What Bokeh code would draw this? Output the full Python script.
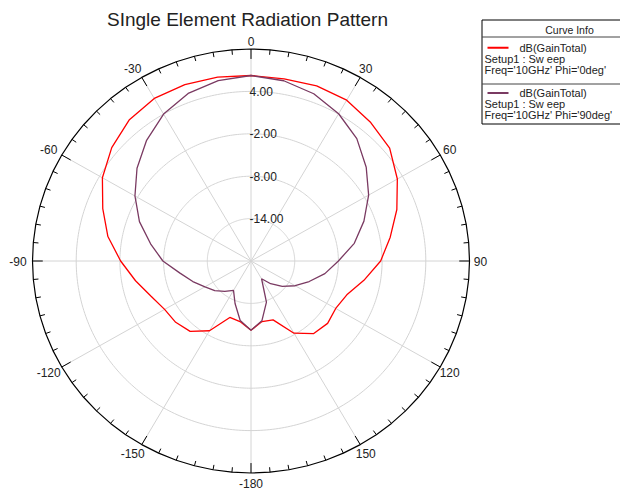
import numpy as np
from bokeh.plotting import figure
from bokeh.models import Range1d
from bokeh.embed import file_html
from bokeh.resources import INLINE
from bokeh.core.properties import value

# ---------------- data ----------------
angles_deg = [-180, -170, -160, -150, -140, -130, -120, -110, -100, -90,
              -80, -70, -60, -50, -40, -30, -20, -10, 0,
              10, 20, 30, 40, 50, 60, 70, 80, 90,
              100, 110, 120, 130, 140, 150, 160, 170, 180]
gain_phi0 = [-10.2, -11.3, -11.5, -8.6, -7.0, -6.5, -6.3, -5.4, -3.9, -2.1,
             -0.05, 1.66, 3.56, 4.96, 6.04, 6.56, 6.56, 6.42, 6.25,
             6.18, 6.36, 6.28, 5.58, 4.85, 3.2, 1.31, -0.59, -2.2,
             -4.26, -6.0, -6.57, -6.27, -6.6, -8.2, -11.14, -11.3, -10.2]
gain_phi90 = [-10.2, -11.45, -13.6, -15.2, -14.4, -13.5, -12.7, -11.5, -10.1, -7.9,
              -6.0, -3.7, -1.6, 0.43, 2.3, 4.0, 5.23, 5.92, 6.25,
              5.9, 5.19, 4.06, 2.6, 0.65, -1.35, -3.5, -5.6, -8.0,
              -9.7, -11.5, -13.0, -14.4, -15.8, -17.1, -13.8, -11.4, -10.2]

r_min, r_max = -20.0, 10.0
ring_levels = [-14.0, -8.0, -2.0, 4.0]
ring_labels = ["-14.00", "-8.00", "-2.00", "4.00"]
spoke_angles = [0, 30, 60, 90, 120, 150, 180, 210, 240, 270, 300, 330]
angle_ticks = [0, 30, 60, 90, 120, 150, 180, -150, -120, -90, -60, -30]
angle_labels = ["0", "30", "60", "90", "120", "150", "-180", "-150", "-120", "-90", "-60", "-30"]

title_text = "SIngle Element Radiation Pattern"
legend_header = "Curve Info"
series_names = ["dB(GainTotal)", "dB(GainTotal)"]
series_setup = ["Setup1 : Sw eep", "Setup1 : Sw eep"]
series_freq = ["Freq='10GHz' Phi='0deg'", "Freq='10GHz' Phi='90deg'"]
series_colors = ["#ff0000", "#7a3a62"]

# ---------------- layout ----------------
W, H = 620, 491
OFF = 0
sx, sy = 218.5 / 30.0, 212.0 / 30.0        # px per dB
cx_c, cy_c = 250.5 - OFF, 260.5 - OFF      # center in canvas px
x0 = -cx_c / sx
x1 = x0 + W / sx
y1 = cy_c / sy
y0 = y1 - H / sy


def px(xp):
    return x0 + (xp - OFF) / sx


def py(yp):
    return y1 - (yp - OFF) / sy


def polar(th_deg, r):
    th = np.radians(np.asarray(th_deg, dtype=float))
    r = np.asarray(r, dtype=float)
    return r * np.sin(th), r * np.cos(th)


p = figure(width=W, height=H, output_backend="svg", toolbar_location=None,
           x_range=Range1d(x0, x1), y_range=Range1d(y0, y1),
           min_border=0, outline_line_color=None)
p.axis.visible = False
p.grid.visible = False
p.background_fill_color = "white"

FONT = value("Liberation Sans")
grid_col = "#d4d4d4"
R = r_max - r_min

# grid rings
th_fine = np.arange(0, 361, 1)
for lv in ring_levels:
    gx, gy = polar(th_fine, np.full(th_fine.shape, lv - r_min))
    p.line(gx, gy, line_color=grid_col, line_width=1)

# spokes
for a in spoke_angles:
    sxp, syp = polar([a, a], [0, R])
    p.line(sxp, syp, line_color=grid_col, line_width=1)

# outer ring (faceted every 5 deg)
th5 = np.arange(0, 361, 5)
ox, oy = polar(th5, np.full(th5.shape, R))
p.line(ox, oy, line_color="black", line_width=1.2)

# ticks
for a in range(0, 360, 5):
    L = 10.0 if a % 30 == 0 else 5.0
    tx, ty = polar([a, a], [R, R - L / 7.1])
    p.line(tx, ty, line_color="black", line_width=1)

# curves
for gains, col in [(gain_phi0, series_colors[0]), (gain_phi90, series_colors[1])]:
    cx, cy = polar(angles_deg, np.array(gains) - r_min)
    p.line(cx, cy, line_color=col, line_width=1.3)

# ring labels
p.text(x=[px(249)] * len(ring_levels),
       y=[lv - r_min for lv in ring_levels],
       text=ring_labels, text_font=FONT, text_font_size="12px",
       text_align="left", text_baseline="middle", text_color="#222222")

# angle labels
lx, ly = [], []
for a in angle_ticks:
    rr = 31.0 if a == 0 else 31.5
    xx, yy = polar([a], [rr])
    xv = float(xx[0])
    if a < 0 and a != -180:
        xv -= 0.5
    lx.append(xv)
    ly.append(float(yy[0]))
p.text(x=lx, y=ly, text=angle_labels, text_font=FONT, text_font_size="12px",
       text_align="center", text_baseline="middle", text_color="#222222")

# title
p.text(x=[px(247)], y=[py(19)], text=[title_text], text_font=FONT,
       text_font_size="19px", text_align="center", text_baseline="middle",
       text_color="#222222")

# legend box
p.quad(left=[px(481.5)], right=[px(640)], top=[py(19.5)], bottom=[py(123.5)],
       fill_color="white", line_color="black", line_width=1)
p.segment(x0=[px(481.5), px(481.5)], x1=[px(640), px(640)],
          y0=[py(36.5), py(83.5)], y1=[py(36.5), py(83.5)],
          line_color="#444444", line_width=1)
p.text(x=[px(569)], y=[py(29.5)], text=[legend_header], text_font=FONT,
       text_font_size="10.5px", text_align="center", text_baseline="middle",
       text_color="#222222")
row_tops = [47.3, 92.5]
for i in range(2):
    yl = row_tops[i]
    p.segment(x0=[px(487)], x1=[px(508)], y0=[py(yl)], y1=[py(yl)],
              line_color=series_colors[i], line_width=2)
    p.text(x=[px(519)], y=[py(yl)], text=[series_names[i]], text_font=FONT,
           text_font_size="11px", text_align="left", text_baseline="middle",
           text_color="#222222")
    p.text(x=[px(484)], y=[py(yl + 11)], text=[series_setup[i]], text_font=FONT,
           text_font_size="11px", text_align="left", text_baseline="middle",
           text_color="#222222")
    p.text(x=[px(484)], y=[py(yl + 22)], text=[series_freq[i]], text_font=FONT,
           text_font_size="11px", text_align="left", text_baseline="middle",
           text_color="#222222")

open("out.html", "w").write(file_html(p, INLINE))
